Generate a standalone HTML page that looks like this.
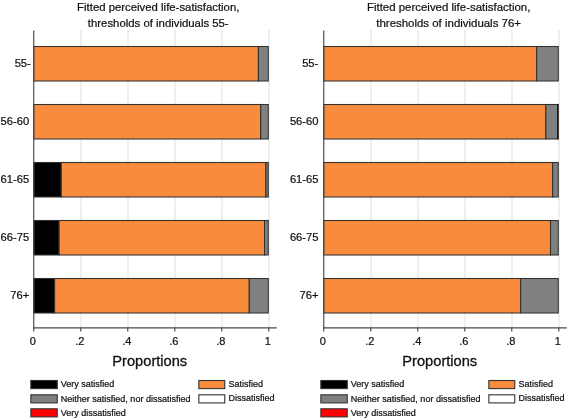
<!DOCTYPE html>
<html><head><meta charset="utf-8"><title>Fitted perceived life-satisfaction</title>
<style>
html,body{margin:0;padding:0;background:#fff;}
svg{display:block;will-change:transform;opacity:0.999;font-family:"Liberation Sans",sans-serif;fill:#111;}
text{stroke:#111;stroke-width:0.22px;}
</style></head><body>
<svg width="568" height="418" viewBox="0 0 568 418">
<rect x="0" y="0" width="568" height="418" fill="#fff" stroke="none"/>
<line x1="81.0" y1="30.5" x2="81.0" y2="327.5" stroke="#dcdcdc" stroke-width="1.3" stroke-dasharray="1.7 0.8"/>
<line x1="128.0" y1="30.5" x2="128.0" y2="327.5" stroke="#dcdcdc" stroke-width="1.3" stroke-dasharray="1.7 0.8"/>
<line x1="175.0" y1="30.5" x2="175.0" y2="327.5" stroke="#dcdcdc" stroke-width="1.3" stroke-dasharray="1.7 0.8"/>
<line x1="222.0" y1="30.5" x2="222.0" y2="327.5" stroke="#dcdcdc" stroke-width="1.3" stroke-dasharray="1.7 0.8"/>
<line x1="269.0" y1="30.5" x2="269.0" y2="327.5" stroke="#dcdcdc" stroke-width="1.3" stroke-dasharray="1.7 0.8"/>
<rect x="33.75" y="46.5" width="224.66" height="34.5" fill="#F98B3D" stroke="#303030" stroke-width="1.05"/>
<rect x="258.41" y="46.5" width="9.84" height="34.5" fill="#808080" stroke="#303030" stroke-width="1.05"/>
<text x="30.8" y="66.6" text-anchor="end" font-size="11.2">55-</text>
<rect x="33.75" y="104.5" width="227.01" height="34.5" fill="#F98B3D" stroke="#303030" stroke-width="1.05"/>
<rect x="260.76" y="104.5" width="7.49" height="34.5" fill="#808080" stroke="#303030" stroke-width="1.05"/>
<text x="29.2" y="124.6" text-anchor="end" font-size="11.2">56-60</text>
<rect x="33.75" y="162.5" width="27.50" height="34.5" fill="#000" stroke="#303030" stroke-width="1.05"/>
<rect x="61.25" y="162.5" width="204.69" height="34.5" fill="#F98B3D" stroke="#303030" stroke-width="1.05"/>
<rect x="265.93" y="162.5" width="2.32" height="34.5" fill="#808080" stroke="#303030" stroke-width="1.05"/>
<text x="29.2" y="182.6" text-anchor="end" font-size="11.2">61-65</text>
<rect x="33.75" y="220.5" width="25.38" height="34.5" fill="#000" stroke="#303030" stroke-width="1.05"/>
<rect x="59.13" y="220.5" width="205.39" height="34.5" fill="#F98B3D" stroke="#303030" stroke-width="1.05"/>
<rect x="264.52" y="220.5" width="3.73" height="34.5" fill="#808080" stroke="#303030" stroke-width="1.05"/>
<text x="29.2" y="240.6" text-anchor="end" font-size="11.2">66-75</text>
<rect x="33.75" y="278.5" width="20.91" height="34.5" fill="#000" stroke="#303030" stroke-width="1.05"/>
<rect x="54.66" y="278.5" width="194.58" height="34.5" fill="#F98B3D" stroke="#303030" stroke-width="1.05"/>
<rect x="249.25" y="278.5" width="19.00" height="34.5" fill="#808080" stroke="#303030" stroke-width="1.05"/>
<text x="29.2" y="298.6" text-anchor="end" font-size="11.2">76+</text>
<line x1="33.75" y1="30.5" x2="33.75" y2="328.5" stroke="#484848" stroke-width="1.15"/>
<line x1="33.25" y1="327.9" x2="276.75" y2="327.9" stroke="#484848" stroke-width="1.3"/>
<line x1="33.75" y1="327.9" x2="33.75" y2="331.5" stroke="#484848" stroke-width="1.15"/>
<text x="32.85" y="345" text-anchor="middle" font-size="11">0</text>
<line x1="80.75" y1="327.9" x2="80.75" y2="331.5" stroke="#484848" stroke-width="1.15"/>
<text x="79.85" y="345" text-anchor="middle" font-size="11">.2</text>
<line x1="127.75" y1="327.9" x2="127.75" y2="331.5" stroke="#484848" stroke-width="1.15"/>
<text x="126.85" y="345" text-anchor="middle" font-size="11">.4</text>
<line x1="174.75" y1="327.9" x2="174.75" y2="331.5" stroke="#484848" stroke-width="1.15"/>
<text x="173.85" y="345" text-anchor="middle" font-size="11">.6</text>
<line x1="221.75" y1="327.9" x2="221.75" y2="331.5" stroke="#484848" stroke-width="1.15"/>
<text x="220.85" y="345" text-anchor="middle" font-size="11">.8</text>
<line x1="268.75" y1="327.9" x2="268.75" y2="331.5" stroke="#484848" stroke-width="1.15"/>
<text x="267.85" y="345" text-anchor="middle" font-size="11">1</text>
<text x="149.75" y="366" text-anchor="middle" font-size="14.65" style="stroke-width:0.3px">Proportions</text>
<text x="158.25" y="10.8" text-anchor="middle" font-size="11.37">Fitted perceived life-satisfaction,</text>
<text x="158.25" y="27.45" text-anchor="middle" font-size="11.37">thresholds of individuals 55-</text>
<rect x="30.85" y="380.5" width="26.4" height="8.1" fill="#000" stroke="#333" stroke-width="1.1"/>
<text x="60.85" y="387.3" font-size="9">Very satisfied</text>
<rect x="30.85" y="394.8" width="26.4" height="8.1" fill="#808080" stroke="#333" stroke-width="1.1"/>
<text x="60.85" y="401.6" font-size="9">Neither satisfied, nor dissatisfied</text>
<rect x="30.85" y="408.8" width="26.4" height="8.1" fill="#FF0000" stroke="#333" stroke-width="1.1"/>
<text x="60.85" y="415.8" font-size="9">Very dissatisfied</text>
<rect x="198.85" y="380.5" width="25.9" height="8.1" fill="#F98B3D" stroke="#333" stroke-width="1.1"/>
<text x="228.54999999999998" y="386.84999999999997" font-size="9">Satisfied</text>
<rect x="198.85" y="394.8" width="25.9" height="8.1" fill="#fff" stroke="#333" stroke-width="1.1"/>
<text x="228.54999999999998" y="400.65" font-size="9">Dissatisfied</text>
<line x1="371.0" y1="30.5" x2="371.0" y2="327.5" stroke="#dcdcdc" stroke-width="1.3" stroke-dasharray="1.7 0.8"/>
<line x1="418.0" y1="30.5" x2="418.0" y2="327.5" stroke="#dcdcdc" stroke-width="1.3" stroke-dasharray="1.7 0.8"/>
<line x1="465.0" y1="30.5" x2="465.0" y2="327.5" stroke="#dcdcdc" stroke-width="1.3" stroke-dasharray="1.7 0.8"/>
<line x1="512.0" y1="30.5" x2="512.0" y2="327.5" stroke="#dcdcdc" stroke-width="1.3" stroke-dasharray="1.7 0.8"/>
<line x1="559.0" y1="30.5" x2="559.0" y2="327.5" stroke="#dcdcdc" stroke-width="1.3" stroke-dasharray="1.7 0.8"/>
<rect x="323.75" y="46.5" width="212.91" height="34.5" fill="#F98B3D" stroke="#303030" stroke-width="1.05"/>
<rect x="536.66" y="46.5" width="21.59" height="34.5" fill="#808080" stroke="#303030" stroke-width="1.05"/>
<text x="318.3" y="66.6" text-anchor="end" font-size="11.2">55-</text>
<rect x="323.75" y="104.5" width="222.08" height="34.5" fill="#F98B3D" stroke="#303030" stroke-width="1.05"/>
<rect x="545.83" y="104.5" width="11.75" height="34.5" fill="#808080" stroke="#303030" stroke-width="1.05"/>
<rect x="557.58" y="104.5" width="0.67" height="34.5" fill="#fff" stroke="#111" stroke-width="1.05"/>
<text x="318.5" y="124.6" text-anchor="end" font-size="11.2">56-60</text>
<rect x="323.75" y="162.5" width="228.89" height="34.5" fill="#F98B3D" stroke="#303030" stroke-width="1.05"/>
<rect x="552.64" y="162.5" width="5.61" height="34.5" fill="#808080" stroke="#303030" stroke-width="1.05"/>
<text x="318.5" y="182.6" text-anchor="end" font-size="11.2">61-65</text>
<rect x="323.75" y="220.5" width="226.77" height="34.5" fill="#F98B3D" stroke="#303030" stroke-width="1.05"/>
<rect x="550.52" y="220.5" width="7.73" height="34.5" fill="#808080" stroke="#303030" stroke-width="1.05"/>
<text x="318.5" y="240.6" text-anchor="end" font-size="11.2">66-75</text>
<rect x="323.75" y="278.5" width="196.93" height="34.5" fill="#F98B3D" stroke="#303030" stroke-width="1.05"/>
<rect x="520.68" y="278.5" width="37.57" height="34.5" fill="#808080" stroke="#303030" stroke-width="1.05"/>
<text x="318.5" y="298.6" text-anchor="end" font-size="11.2">76+</text>
<line x1="323.75" y1="30.5" x2="323.75" y2="328.5" stroke="#484848" stroke-width="1.15"/>
<line x1="323.25" y1="327.9" x2="566.75" y2="327.9" stroke="#484848" stroke-width="1.3"/>
<line x1="323.75" y1="327.9" x2="323.75" y2="331.5" stroke="#484848" stroke-width="1.15"/>
<text x="322.85" y="345" text-anchor="middle" font-size="11">0</text>
<line x1="370.75" y1="327.9" x2="370.75" y2="331.5" stroke="#484848" stroke-width="1.15"/>
<text x="369.85" y="345" text-anchor="middle" font-size="11">.2</text>
<line x1="417.75" y1="327.9" x2="417.75" y2="331.5" stroke="#484848" stroke-width="1.15"/>
<text x="416.85" y="345" text-anchor="middle" font-size="11">.4</text>
<line x1="464.75" y1="327.9" x2="464.75" y2="331.5" stroke="#484848" stroke-width="1.15"/>
<text x="463.85" y="345" text-anchor="middle" font-size="11">.6</text>
<line x1="511.75" y1="327.9" x2="511.75" y2="331.5" stroke="#484848" stroke-width="1.15"/>
<text x="510.85" y="345" text-anchor="middle" font-size="11">.8</text>
<line x1="558.75" y1="327.9" x2="558.75" y2="331.5" stroke="#484848" stroke-width="1.15"/>
<text x="557.85" y="345" text-anchor="middle" font-size="11">1</text>
<text x="439.75" y="366" text-anchor="middle" font-size="14.65" style="stroke-width:0.3px">Proportions</text>
<text x="448.65" y="10.8" text-anchor="middle" font-size="11.45">Fitted perceived life-satisfaction,</text>
<text x="448.65" y="27.45" text-anchor="middle" font-size="11.45">thresholds of individuals 76+</text>
<rect x="320.85" y="380.5" width="26.4" height="8.1" fill="#000" stroke="#333" stroke-width="1.1"/>
<text x="350.85" y="387.3" font-size="9">Very satisfied</text>
<rect x="320.85" y="394.8" width="26.4" height="8.1" fill="#808080" stroke="#333" stroke-width="1.1"/>
<text x="350.85" y="401.6" font-size="9">Neither satisfied, nor dissatisfied</text>
<rect x="320.85" y="408.8" width="26.4" height="8.1" fill="#FF0000" stroke="#333" stroke-width="1.1"/>
<text x="350.85" y="415.8" font-size="9">Very dissatisfied</text>
<rect x="488.85" y="380.5" width="25.9" height="8.1" fill="#F98B3D" stroke="#333" stroke-width="1.1"/>
<text x="518.5500000000001" y="386.84999999999997" font-size="9">Satisfied</text>
<rect x="488.85" y="394.8" width="25.9" height="8.1" fill="#fff" stroke="#333" stroke-width="1.1"/>
<text x="518.5500000000001" y="400.65" font-size="9">Dissatisfied</text>
</svg>
</body></html>
